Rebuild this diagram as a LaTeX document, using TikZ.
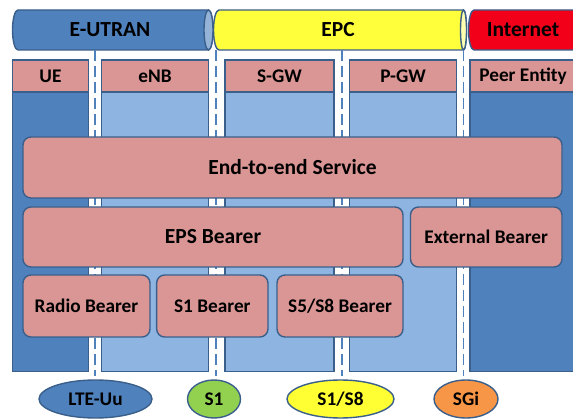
\documentclass[tikz,border=0pt]{standalone}
\usepackage{fontspec}
\setmainfont{Carlito}
\usetikzlibrary{shapes.geometric}

\definecolor{dkblue}{HTML}{4F81BD}
\definecolor{ltblue}{HTML}{8EB4E2}
\definecolor{edge}{HTML}{3A5F8B}
\definecolor{rose}{HTML}{D99694}
\definecolor{blueface}{HTML}{95B3D7}
\definecolor{epcyellow}{HTML}{FFFF3C}
\definecolor{yellowface}{HTML}{FFFFB0}
\definecolor{netred}{HTML}{F2001A}
\definecolor{ifgreen}{HTML}{92D050}
\definecolor{iforange}{HTML}{F79646}
\definecolor{ifyellow}{HTML}{FFFF33}

\begin{document}
\begin{tikzpicture}[x=1pt,y=-1pt,
  font=\bfseries\fontsize{19.3}{22}\selectfont,
  bigtext/.style={font=\bfseries\fontsize{21.5}{24}\selectfont},
  cylline/.style={draw=edge, line width=1.4pt},
  cyltext/.style={inner sep=0pt, text=black, bigtext},
  hdr/.style={draw=edge, line width=1.4pt, fill=rose, minimum height=32pt,
    inner sep=0pt, text=black},
  colbody/.style={draw=edge, line width=1.4pt, minimum height=279.5pt, inner sep=0pt},
  divider/.style={draw=dkblue, line width=1.8pt, dash pattern=on 11pt off 5pt},
  bearer/.style={draw=edge, line width=1.4pt, fill=rose, rounded corners=8pt,
    inner sep=0pt, text=black},
  iface/.style={ellipse, draw=edge, line width=1.4pt, minimum height=38pt,
    inner sep=0pt, text=black}]

\useasboundingbox (0,0) rectangle (573,419);
\fill[white] (0,0) rectangle (573,419);
\clip (0,0) rectangle (573,419);

% domain cylinders along the top
\filldraw[cylline, fill=dkblue] (18,10) -- (208.5,10)
  arc[start angle=90, end angle=-90, x radius=4.5pt, y radius=20pt]
  -- (18,50)
  arc[start angle=270, end angle=90, x radius=5.5pt, y radius=20pt] -- cycle;
\filldraw[cylline, fill=blueface] (208.5,30) ellipse [x radius=4.5pt, y radius=20pt];
\node[cyltext] (eutran) at (110,30) {E-UTRAN};

\filldraw[cylline, fill=epcyellow] (219,10) -- (463.5,10)
  arc[start angle=90, end angle=-90, x radius=3pt, y radius=20pt]
  -- (219,50)
  arc[start angle=270, end angle=90, x radius=5.5pt, y radius=20pt] -- cycle;
\filldraw[cylline, fill=yellowface] (463.5,30) ellipse [x radius=3pt, y radius=20pt];
\node[cyltext] (epc) at (338,30) {EPC};

\filldraw[cylline, fill=netred] (474,10) -- (620,10)
  arc[start angle=90, end angle=-90, x radius=5pt, y radius=20pt]
  -- (474,50)
  arc[start angle=270, end angle=90, x radius=5.5pt, y radius=20pt] -- cycle;
\node[cyltext] (internet) at (523,30) {Internet};

% protocol entities: column bodies
\node[colbody, fill=dkblue, minimum width=76pt]  (uebody)   at (50.5,231.75) {};
\node[colbody, fill=ltblue, minimum width=107pt] (enbbody)  at (155,231.75) {};
\node[colbody, fill=ltblue, minimum width=109pt] (sgwbody)  at (279.5,231.75) {};
\node[colbody, fill=ltblue, minimum width=107pt] (pgwbody)  at (403,231.75) {};
\node[colbody, fill=dkblue, minimum width=106pt] (peerbody) at (523,231.75) {};

% interface boundaries between the entities
\coordinate (d1t) at (95.3,50);  \coordinate (d1b) at (95.3,376);
\coordinate (d2t) at (215.8,50); \coordinate (d2b) at (215.8,376);
\coordinate (d3t) at (341.7,50); \coordinate (d3b) at (341.7,376);
\coordinate (d4t) at (463.5,50); \coordinate (d4b) at (463.5,376);
\draw[divider] (d1t) -- (d1b);
\draw[divider] (d2t) -- (d2b);
\draw[divider] (d3t) -- (d3b);
\draw[divider] (d4t) -- (d4b);

% entity headers
\node[hdr, minimum width=76pt]  (ue)   at (50.5,76)  {UE};
\node[hdr, minimum width=107pt] (enb)  at (155,76)   {eNB};
\node[hdr, minimum width=109pt] (sgw)  at (279.5,76) {S-GW};
\node[hdr, minimum width=107pt] (pgw)  at (403,76)   {P-GW};
\node[hdr, minimum width=106pt] (peer) at (523,76)   {Peer Entity};

% bearer hierarchy
\node[bearer, bigtext, minimum width=539pt, minimum height=61pt] (e2e) at (292.5,167.5) {End-to-end Service};
\node[bearer, bigtext, minimum width=380pt, minimum height=60pt] (eps) at (213,237) {EPS Bearer};
\node[bearer, minimum width=151.5pt, minimum height=60pt] (ext) at (486.25,237) {External Bearer};
\node[bearer, minimum width=127pt, minimum height=62pt] (radio) at (86.5,306) {Radio Bearer};
\node[bearer, minimum width=111.3pt, minimum height=62pt] (s1b) at (212.3,306) {S1 Bearer};
\node[bearer, minimum width=126pt, minimum height=62pt] (s5b) at (340,306) {S5/S8 Bearer};

% interface names
\node[iface, fill=dkblue, minimum width=113pt]   (lteuu) at (95.5,399) {LTE-Uu};
\node[iface, fill=ifgreen, minimum width=53pt]   (s1)    at (214,399)  {S1};
\node[iface, fill=ifyellow, minimum width=107pt] (s1s8)  at (340.5,399) {S1/S8};
\node[iface, fill=iforange, minimum width=64pt]  (sgi)   at (466,399)  {SGi};
\end{tikzpicture}
\end{document}
